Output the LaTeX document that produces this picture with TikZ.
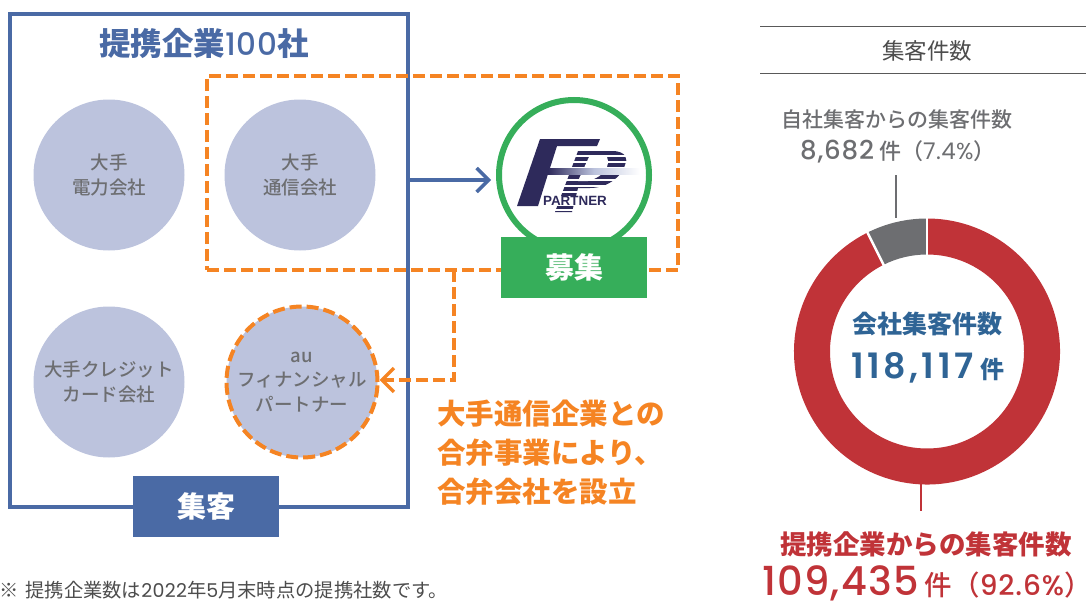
\documentclass[tikz,border=0pt]{standalone}
\usepackage{fontspec}
\setmainfont{Noto Sans CJK JP}
\newfontfamily\medfont{Noto Sans CJK JP Medium}
\newfontfamily\numfont[LetterSpace=2]{Poppins}
\newfontfamily\nummed[LetterSpace=3]{Poppins Medium}
\newfontfamily\numwide[LetterSpace=10]{Poppins SemiBold}
\newfontfamily\logofont{Liberation Sans}
\usetikzlibrary{arrows.meta}
\definecolor{bluemain}{HTML}{4A6AA5}
\definecolor{bluetext}{HTML}{2F6495}
\definecolor{lilac}{HTML}{BCC3DD}
\definecolor{orangemain}{HTML}{F58423}
\definecolor{greenmain}{HTML}{36AE5A}
\definecolor{redmain}{HTML}{C03338}
\definecolor{graymain}{HTML}{6D6E71}
\definecolor{navylogo}{HTML}{2E2A5B}
\newcommand{\fsz}[1]{\fontsize{#1}{#1}\selectfont}
\tikzset{
  company/.style={circle,fill=lilac,minimum size=151pt,inner sep=0pt,text=graymain,align=center,font=\medfont\fontsize{18.5}{24.5}\selectfont},
  tagbox/.style={fill=#1,text=white,minimum width=146pt,minimum height=61pt,inner sep=0pt,font=\fsz{29}\bfseries},
  orangedash/.style={draw=orangemain,line width=4pt,dash pattern=on 12pt off 5pt},
  openarrow/.style={-{Straight Barb[length=12pt,width=24pt,line width=3.5pt]}},
  plain/.style={inner sep=0pt,anchor=center}
}
\begin{document}
\begin{tikzpicture}[x=1pt,y=-1pt]
\useasboundingbox (0,0) rectangle (1086,602);
% left block
\node[draw=bluemain,line width=4pt,minimum width=398pt,minimum height=493pt,inner sep=0pt] (partners) at (209,260.5) {};
\node[plain,text=bluemain,font=\fsz{31.5}\bfseries] (title) at (204,43) {提携企業{\mdseries\nummed\fsz{31}100}社};
\node[company] (power) at (109,175) {大手\\電力会社};
\node[company] (telecom) at (300,175) {大手\\通信会社};
\node[company] (credit) at (109,382) {大手クレジット\\カード会社};
\node[company,orangedash] (aufp) at (302,382) {au\\フィナンシャル\\パートナー};
\node[tagbox=bluemain] (visit) at (206,506.5) {集客};
% right of the block
\node[orangedash,minimum width=471pt,minimum height=194pt,inner sep=0pt] (joint) at (442.5,173) {};
\node[circle,draw=greenmain,line width=6pt,fill=white,minimum size=150pt,inner sep=0pt] (fp) at (574,175) {};
% logo
\fill[navylogo] (540,139) -- (600,139) -- (597,146) -- (557,146) -- (550,168) -- (570,168) -- (570,174) -- (548,174) -- (538,206) -- (517,206) -- cycle;
\begin{scope}
\clip (578,151) -- (612,151) .. controls (627,151) and (628,160) .. (625,165) .. controls (622,176) and (608,188) .. (590,188) -- (578,188) -- (572,212) -- (555,212) -- cycle;
\foreach \ystripe in {151,157,...,211}
  \fill[navylogo] (550,\ystripe) rectangle (640,\ystripe+3.5);
\end{scope}
\fill[white] (589,157) -- (607,157) .. controls (610,165) and (606,176) .. (588,181) -- (578,181) -- cycle;
\shade[left color=navylogo,right color=white,middle color=lilac] (548,168) rectangle (640,174);
\node[plain,fill=white,text=navylogo,font=\logofont\fsz{13.4}\bfseries] (partner) at (575,201) {PARTNER};
\node[tagbox=greenmain] (recruit) at (574,267.5) {募集};
\coordinate (bluefrom) at (409,180);
\coordinate (blueto) at (491,180);
\draw[bluemain,line width=3.5pt,openarrow] (bluefrom) -- (blueto);
\coordinate (jointdrop) at (454,270);
\coordinate (jointturn) at (454,380);
\draw[orangedash,openarrow] (jointdrop) -- (jointturn) -- (aufp.east |- jointturn);
\node[plain,anchor=west,text=orangemain,font=\fsz{28.5}\bfseries,align=left] (jointnote) at (437,453) {大手通信企業との\\[10.5pt]合弁事業により、\\[10.5pt]合弁会社を設立};
\node[plain,anchor=west,text=black!70,font=\fsz{19.3}] (footnote) at (-1,590.5) {※\hspace{7pt}提携企業数は{\numfont\fsz{19}2022}年{\numfont\fsz{19}5}月末時点の提携社数です。};
% donut
\coordinate (donut) at (927,351.5);
\draw[black!65,line width=1pt] (760,27) -- (1086,27) (760,73) -- (1086,73);
\node[plain,text=black!70,font=\fsz{22.5}] (heading) at (927,51) {集客件数};
\fill[redmain] ([shift={(116.6:133pt)}]donut) arc[start angle=116.6,end angle=450,radius=133pt] -- ([shift={(90:97pt)}]donut) arc[start angle=450,end angle=116.6,radius=97pt] -- cycle;
\fill[graymain] ([shift={(90:133pt)}]donut) arc[start angle=90,end angle=116.6,radius=133pt] -- ([shift={(116.6:97pt)}]donut) arc[start angle=116.6,end angle=90,radius=97pt] -- cycle;
\draw[white,line width=2.5pt] ([shift={(90:95pt)}]donut) -- ([shift={(90:135pt)}]donut);
\draw[white,line width=2.5pt] ([shift={(116.6:95pt)}]donut) -- ([shift={(116.6:135pt)}]donut);
\node[plain,text=bluetext,font=\fsz{25}\bfseries] (total) at (927,324) {会社集客件数};
\node[plain,anchor=west,text=bluetext,font=\fsz{24}\bfseries] (totalnum) at (851,368) {{\mdseries\numwide\fsz{35}118,117}\hspace{7pt}件};
\node[plain,text=graymain,font=\medfont\fsz{21}] (own) at (897,120) {自社集客からの集客件数};
\node[plain,anchor=west,text=graymain,font=\medfont\fsz{22}] (ownnum) at (800,152) {{\nummed\fsz{26}8,682} 件（{\numfont\fsz{23}7.4\%}）};
\coordinate (owntop) at (896,175);
\coordinate (ownend) at (896,218);
\draw[graymain,line width=2.5pt] (owntop) -- (ownend);
\coordinate (redtop) at (921,484);
\coordinate (redend) at (921,511);
\draw[redmain,line width=2.5pt] (redtop) -- (redend);
\node[plain,text=redmain,font=\fsz{26.5}\bfseries] (partnersum) at (926,544) {提携企業からの集客件数};
\node[plain,anchor=west,text=redmain,font=\medfont\fsz{27.5}] (partnernum) at (762,583.5) {{\nummed\fsz{40}109,435} 件（{\nummed\fsz{28}92.6\%}）};
\end{tikzpicture}
\end{document}
